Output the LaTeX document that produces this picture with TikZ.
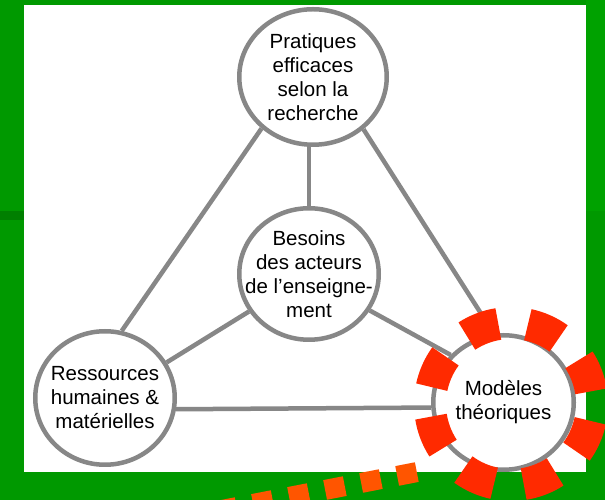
\documentclass[tikz,border=0pt]{standalone}
\usepackage{fontspec}
\setmainfont{Liberation Sans}
\usetikzlibrary{shapes.geometric,calc}
\definecolor{bggreen}{HTML}{009900}
\definecolor{bandgreen}{HTML}{007F00}
\definecolor{lightgreen}{HTML}{00A200}
\definecolor{ringgray}{HTML}{878787}
\definecolor{dashred}{HTML}{FF2A00}
\definecolor{dotorange}{HTML}{FF5500}
\pgfdeclarelayer{bglayer}
\pgfdeclarelayer{linklayer}
\pgfsetlayers{bglayer,linklayer,main}
\begin{document}
\begin{tikzpicture}[x=1pt,y=1pt,
  bubble/.style={ellipse, draw=ringgray, line width=4.5pt, fill=white,
    inner sep=-20pt, align=center, text=black,
    font=\fontsize{20.5}{24}\selectfont},
  link/.style={draw=ringgray, line width=4.5pt},
  reddash/.style={draw=dashred, line width=32pt},
  orangedots/.style={draw=dotorange, line width=20pt, dash pattern=on 20pt off 16.7pt}]
\useasboundingbox (0,0) rectangle (605,500);
\clip (0,0) rectangle (605,500);
% background
\begin{pgfonlayer}{bglayer}
\fill[bggreen] (0,0) rectangle (605,500);
\fill[bandgreen] (0,280) rectangle (24,289);
\fill[lightgreen] (586,289) rectangle (605,500);
\fill[white] (24,28) rectangle (586,495);
\end{pgfonlayer}
% nodes
\node[bubble, minimum width=147.5pt, minimum height=135.5pt] (T) at (313,423) {Pratiques\\efficaces\\selon la\\recherche};
\node[bubble, minimum width=139.5pt, minimum height=131.5pt] (C) at (309,226) {Besoins\\des acteurs\\de l’enseigne-\\ment};
\node[bubble, minimum width=139.5pt, minimum height=133.5pt] (L) at (105,102) {Ressources\\humaines \&\\matérielles};
\node[bubble, minimum width=140.5pt, minimum height=134.5pt] (R) at (503.5,97.5) {Modèles\\théoriques};
% connectors
\begin{pgfonlayer}{linklayer}
\path[link] (T.225) -- (L.76);
\path[link] (T.314) -- (R.98.6);
\path[link] (C.north) -- (C.north |- T.south);
\path[link] (C.212) -- (L.30);
\path[link] (C.329) -- (R.138);
\path[link] (L.-9.7) -- (R.184.4);
\end{pgfonlayer}
% red dashed ring around Modèles théoriques
\coordinate (RC) at (511,96);
\foreach \a in {21,66,...,336}
  \draw[reddash] ($(RC)+({\a-12}:81)$) arc[start angle=\a-12, end angle=\a+12, radius=81];
% orange dotted line
\coordinate (O1) at (416.8,27.9);
\coordinate (O2) at (122.2,-29.4);
\draw[orangedots] (O1) -- (O2);
\end{tikzpicture}
\end{document}
